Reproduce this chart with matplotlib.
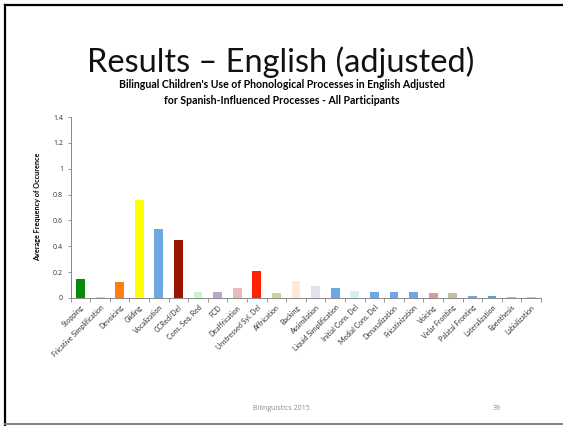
import matplotlib
matplotlib.use("Agg")
import matplotlib.pyplot as plt
from matplotlib.lines import Line2D
import numpy as np

plt.rcParams['font.family'] = ['Lato', 'DejaVu Sans']

categories = ["Stopping", "Fricative Simplification", "Devoicing", "Gliding",
              "Vocalization", "CCRed/Del", "Cons. Seq. Red", "FCD",
              "Deaffrication", "Unstressed Syl. Del", "Affrication", "Backing",
              "Assimilation", "Liquid Simplification", "Initial Cons. Del",
              "Medial Cons. Del", "Denasalization", "Fricativization", "Voicing",
              "Velar Fronting", "Palatal Fronting", "Lateralization",
              "Epenthesis", "Labialization"]
values = [0.15, 0.01, 0.12, 0.76, 0.53, 0.45, 0.05, 0.05, 0.08, 0.21, 0.035,
          0.13, 0.09, 0.08, 0.056, 0.046, 0.046, 0.046, 0.042, 0.035, 0.016,
          0.013, 0.01, 0.007]
colors = ["#0a8a0a", "#b9d3f0", "#ff7f0e", "#ffff00", "#6fa8e0", "#9a1400",
          "#ccf5cc", "#b9a8cc", "#e8bcbc", "#ff2200", "#c6d79d", "#fde9d9",
          "#e6e0ec", "#6ea6e6", "#daedf3", "#6ea6e6", "#6ea6e6", "#6ea6e6",
          "#db9a98", "#c6bf9a", "#6ea6e6", "#43aec6", "#9dbde8", "#b3c7e6"]
yticks = [0, 0.2, 0.4, 0.6, 0.8, 1.0, 1.2, 1.4]
ytick_labels = ["0", "0.2", "0.4", "0.6", "0.8", "1", "1.2", "1.4"]

W, H = 563, 426
fig = plt.figure(figsize=(W / 100, H / 100), dpi=100)

# slide frame
fig.add_artist(Line2D([5 / W, 5 / W], [0, 1 - 4.5 / H], color="black", lw=1.6))
fig.add_artist(Line2D([5 / W, 1], [1 - 4.5 / H, 1 - 4.5 / H], color="black", lw=1.6))
fig.add_artist(Line2D([5 / W, 1], [2 / H, 2 / H], color="#808080", lw=1.4))

fig.text(281 / W, 1 - 72.5 / H, "Results – English (adjusted)", ha="center",
         va="baseline", fontsize=23.4, color="#111111")
fig.text(282 / W, 1 - 88 / H,
         "Bilingual Children's Use of Phonological Processes in English Adjusted",
         ha="center", va="baseline", fontsize=7.6, fontweight="bold")
fig.text(282 / W, 1 - 103.5 / H,
         "for Spanish-Influenced Processes - All Participants",
         ha="center", va="baseline", fontsize=7.6, fontweight="bold")

ax_l, ax_r, ax_b, ax_t = 70.7, 541, 298, 117
ax = fig.add_axes([ax_l / W, 1 - ax_b / H, (ax_r - ax_l) / W, (ax_b - ax_t) / H])

x = np.arange(len(categories))
ax.bar(x, values, width=0.45, color=colors, zorder=3)

ax.set_xlim(-0.5, len(categories) - 0.5)
ax.set_ylim(0, 1.4)
ax.set_yticks(yticks)
ax.set_yticklabels(ytick_labels, family=["Open Sans", "DejaVu Sans"])
ax.set_xticks(x)
ax.set_xticklabels(categories, rotation=45, ha="right", va="top",
                   rotation_mode="anchor", fontsize=5.0, color="#333333")
ax.set_xticks(np.arange(-0.5, len(categories), 1), minor=True)
ax.tick_params(axis="x", which="major", length=0, pad=4)
ax.tick_params(axis="x", which="minor", length=3, width=0.6, color="#888888",
               direction="out")
ax.tick_params(axis="y", length=2.5, width=0.6, color="#888888", labelsize=5,
               labelcolor="#333333", pad=3)
for side in ["top", "right"]:
    ax.spines[side].set_visible(False)
for side in ["left", "bottom"]:
    ax.spines[side].set_color("#888888")
    ax.spines[side].set_linewidth(0.7)
ax.set_facecolor("none")

fig.text(38 / W, 1 - 207 / H, "Average Frequency of Occurence", rotation=90,
         ha="center", va="center", fontsize=5.2, fontweight="bold")

fig.text(281 / W, 1 - 409 / H, "Bilinguistics 2015", ha="center", va="center",
         fontsize=5, color="#8c8c8c", family=["Open Sans", "DejaVu Sans"])
fig.text(497 / W, 1 - 409 / H, "39", ha="center", va="center",
         fontsize=5, color="#8c8c8c", family=["Open Sans", "DejaVu Sans"])

fig.savefig("out.png", dpi=100)
